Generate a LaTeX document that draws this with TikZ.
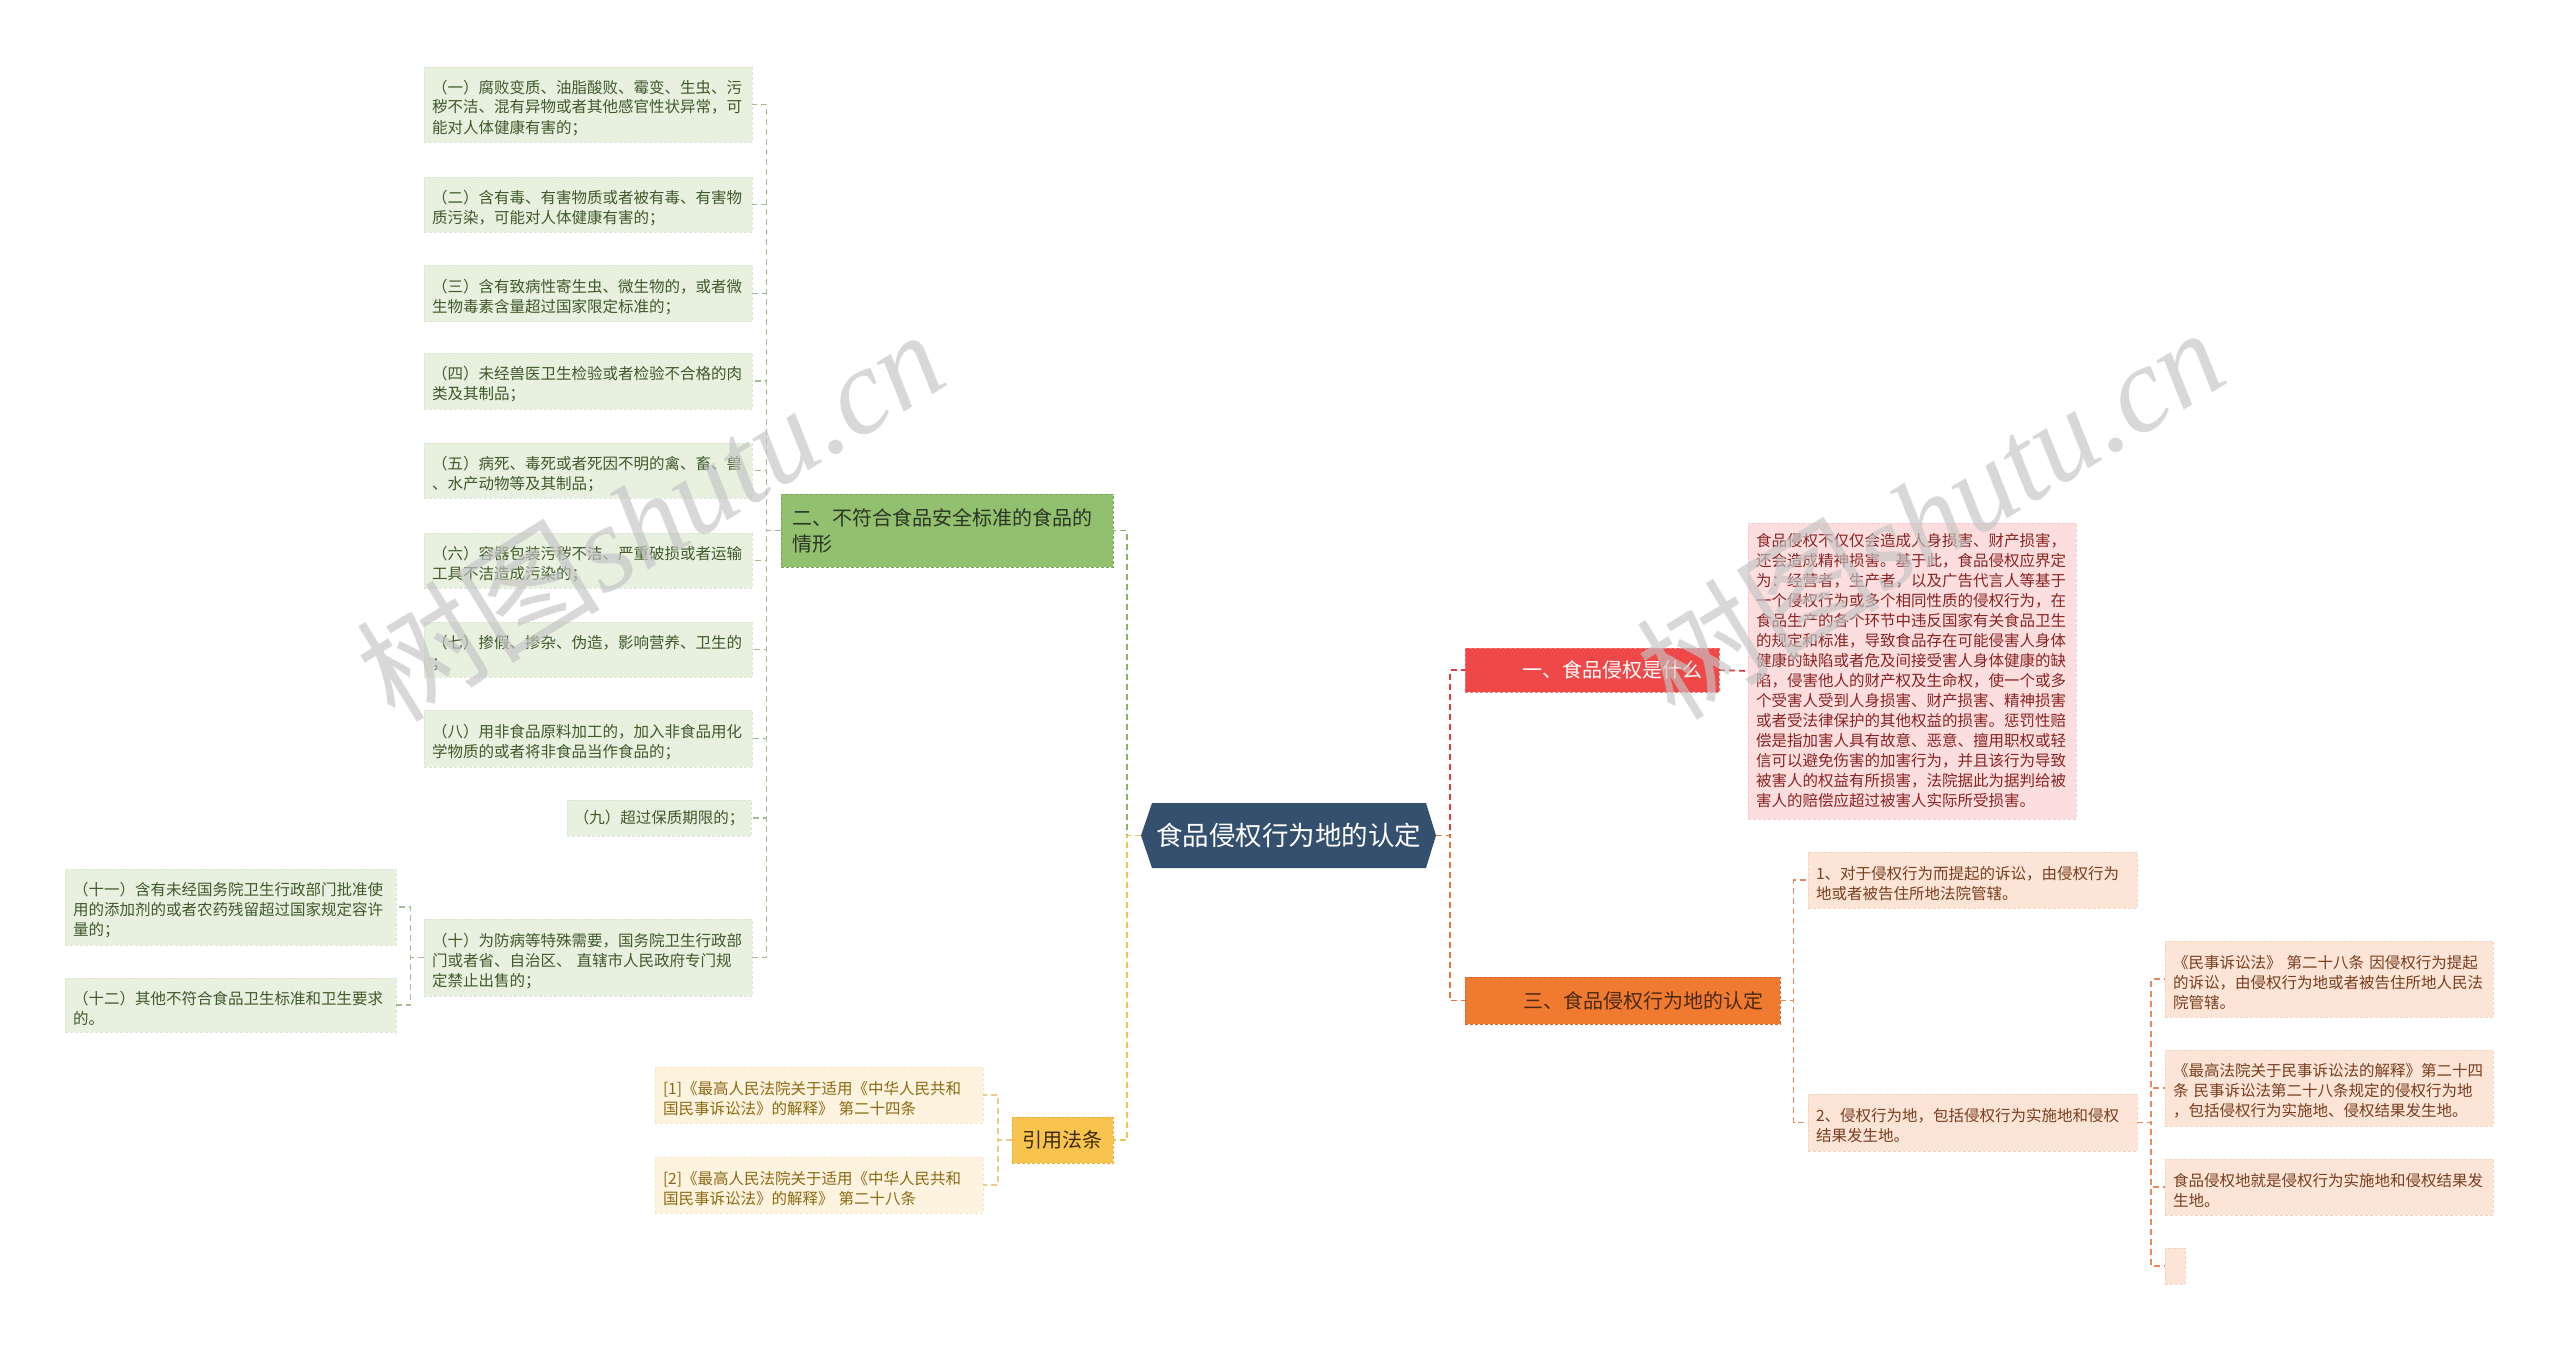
\documentclass[tikz,border=0pt]{standalone}
\usepackage{fontspec}
\setmainfont{Noto Sans CJK SC}
\newfontfamily\wmlatin{Liberation Serif}
\usetikzlibrary{calc}
\definecolor{gLeafFill}{HTML}{E8F0DF}
\definecolor{gLeafLine}{HTML}{DCE6D0}
\definecolor{gLeafText}{HTML}{3E5A2B}
\definecolor{gMainFill}{HTML}{92C06E}
\definecolor{gMainLine}{HTML}{7FA65F}
\definecolor{gMainText}{HTML}{2A3524}
\definecolor{gConn}{HTML}{A6BA94}
\definecolor{gConnMain}{HTML}{8CB064}
\definecolor{ctrFill}{HTML}{34506E}
\definecolor{rMainFill}{HTML}{F04848}
\definecolor{rMainLine}{HTML}{F57A7A}
\definecolor{rConn}{HTML}{D64040}
\definecolor{pinkFill}{HTML}{FCDEDE}
\definecolor{pinkLine}{HTML}{F4CACA}
\definecolor{pinkText}{HTML}{8B2323}
\definecolor{oMainFill}{HTML}{F07A30}
\definecolor{oMainLine}{HTML}{D8682A}
\definecolor{oMainText}{HTML}{4A2A12}
\definecolor{oConn}{HTML}{E2783C}
\definecolor{oLeafConn}{HTML}{E68C5A}
\definecolor{peachFill}{HTML}{FCE4D6}
\definecolor{peachLine}{HTML}{F4D4C0}
\definecolor{peachText}{HTML}{7A3E1E}
\definecolor{yMainFill}{HTML}{F8C44E}
\definecolor{yMainLine}{HTML}{E8B040}
\definecolor{yMainText}{HTML}{3A2A0A}
\definecolor{yConn}{HTML}{F0C45A}
\definecolor{yLeafConn}{HTML}{E8CC8C}
\definecolor{creamFill}{HTML}{FDF3DE}
\definecolor{creamLine}{HTML}{F5E6C4}
\definecolor{creamText}{HTML}{8C6914}
\definecolor{wmGray}{HTML}{C4C4C4}
\newcommand\fsleaf{\fontsize{15.5}{20}\selectfont}
\newcommand\fsmain{\fontsize{20}{26}\selectfont}
\newcommand\fsctr{\fontsize{26.5}{30}\selectfont}
\newcommand\fswm{\fontsize{122}{130}\selectfont}
\begin{document}
\begin{tikzpicture}[x=1pt,y=-1pt,
  box/.style={outer sep=0pt, inner xsep=8pt, inner ysep=0pt, align=left, font=\fsleaf, dash pattern=on 3pt off 2pt, line width=0.8pt},
  lowered/.style={execute at begin node={\rule{0pt}{19.5pt}}},
  gleaf/.style={box, lowered, fill=gLeafFill, draw=gLeafLine, text=gLeafText, text width=312pt},
  pleaf/.style={box, fill=pinkFill, draw=pinkLine, text=pinkText, text width=312pt},
  oleaf/.style={box, lowered, fill=peachFill, draw=peachLine, text=peachText, text width=312pt},
  cleaf/.style={box, lowered, fill=creamFill, draw=creamLine, text=creamText, text width=312pt},
  mainbox/.style={outer sep=0pt, inner ysep=0pt, font=\fsmain, dash pattern=on 3pt off 2pt, line width=0.8pt},
  conn/.style={dash pattern=on 6pt off 4pt, line width=1.8pt},
  wm/.style={text=wmGray, opacity=0.65, font=\fswm, inner sep=0pt}
]
\useasboundingbox[fill=white] (0,0) rectangle (2560,1351);

% ---------- centre ----------
\fill[ctrFill] (1141,835.5) -- (1152,803) -- (1426,803) -- (1436,835.5) -- (1426,868) -- (1152,868) -- cycle;
\node[outer sep=0pt, inner sep=0pt, minimum width=295pt, minimum height=65pt, text=white, font=\fsctr] (ctr) at (1288.5,835.5) {食品侵权行为地的认定};

% ---------- main branches ----------
\node[mainbox, fill=gMainFill, draw=gMainLine, text=gMainText, text width=310pt, inner xsep=11pt, minimum height=73pt, align=left] (green) at (947,530.5) {二、不符合食品安全标准的食品的\\情形};
\node[mainbox, fill=rMainFill, draw=rMainLine, text=white, text width=220pt, inner xsep=17pt, minimum height=44pt, align=right] (red) at (1592,670) {一、食品侵权是什么};
\node[mainbox, fill=oMainFill, draw=oMainLine, text=oMainText, text width=281pt, inner xsep=17pt, minimum height=47pt, align=right] (orange) at (1622.5,1000.5) {三、食品侵权行为地的认定};
\node[mainbox, fill=yMainFill, draw=yMainLine, text=yMainText, inner xsep=0pt, minimum width=101pt, minimum height=46pt] (cite) at (1062.5,1140) {引用法条};

% ---------- green leaves ----------
\node[gleaf, minimum height=75pt] (g1) at (588,104.5) {（一）腐败变质、油脂酸败、霉变、生虫、污\\秽不洁、混有异物或者其他感官性状异常，可\\能对人体健康有害的；};
\node[gleaf, minimum height=55pt] (g2) at (588,204.5) {（二）含有毒、有害物质或者被有毒、有害物\\质污染，可能对人体健康有害的；};
\node[gleaf, minimum height=56pt] (g3) at (588,293.5) {（三）含有致病性寄生虫、微生物的，或者微\\生物毒素含量超过国家限定标准的；};
\node[gleaf, minimum height=56pt] (g4) at (588,381) {（四）未经兽医卫生检验或者检验不合格的肉\\类及其制品；};
\node[gleaf, minimum height=55pt] (g5) at (588,470.5) {（五）病死、毒死或者死因不明的禽、畜、兽\\、水产动物等及其制品；};
\node[gleaf, minimum height=55pt] (g6) at (588,560.5) {（六）容器包装污秽不洁、严重破损或者运输\\工具不洁造成污染的；};
\node[gleaf, minimum height=55pt] (g7) at (588,649.5) {（七）掺假、掺杂、伪造，影响营养、卫生的\\；};
\node[gleaf, minimum height=57pt] (g8) at (588,738.5) {（八）用非食品原料加工的，加入非食品用化\\学物质的或者将非食品当作食品的；};
\node[box, fill=gLeafFill, draw=gLeafLine, text=gLeafText, inner xsep=0pt, minimum width=184pt, minimum height=36pt, align=center] (g9) at (659,818) {（九）超过保质期限的；};
\node[gleaf, minimum height=77pt] (g10) at (588,957.5) {（十）为防病等特殊需要，国务院卫生行政部\\门或者省、自治区、 直辖市人民政府专门规\\定禁止出售的；};
\node[gleaf, text width=315pt, minimum height=76pt] (g11) at (230.5,907) {（十一）含有未经国务院卫生行政部门批准使\\用的添加剂的或者农药残留超过国家规定容许\\量的；};
\node[gleaf, text width=315pt, minimum height=54pt] (g12) at (230.5,1005) {（十二）其他不符合食品卫生标准和卫生要求\\的。};

% ---------- pink description ----------
\node[pleaf, minimum height=296pt] (pink) at (1912,671) {食品侵权不仅仅会造成人身损害、财产损害，\\还会造成精神损害。基于此，食品侵权应界定\\为：经营者，生产者，以及广告代言人等基于\\一个侵权行为或多个相同性质的侵权行为，在\\食品生产的各个环节中违反国家有关食品卫生\\的规定和标准，导致食品存在可能侵害人身体\\健康的缺陷或者危及间接受害人身体健康的缺\\陷，侵害他人的财产权及生命权，使一个或多\\个受害人受到人身损害、财产损害、精神损害\\或者受法律保护的其他权益的损害。惩罚性赔\\偿是指加害人具有故意、恶意、擅用职权或轻\\信可以避免伤害的加害行为，并且该行为导致\\被害人的权益有所损害，法院据此为据判给被\\害人的赔偿应超过被害人实际所受损害。};

% ---------- orange leaves ----------
\node[oleaf, text width=313pt, minimum height=56pt] (r1) at (1972.5,880) {1、对于侵权行为而提起的诉讼，由侵权行为\\地或者被告住所地法院管辖。};
\node[oleaf, text width=313pt, minimum height=57pt] (r2) at (1972.5,1122.5) {2、侵权行为地，包括侵权行为实施地和侵权\\结果发生地。};
\node[oleaf, minimum height=76pt] (sa) at (2329,979) {《民事诉讼法》 第二十八条 因侵权行为提起\\的诉讼，由侵权行为地或者被告住所地人民法\\院管辖。};
\node[oleaf, minimum height=76pt] (sb) at (2329,1088) {《最高法院关于民事诉讼法的解释》第二十四\\条 民事诉讼法第二十八条规定的侵权行为地\\，包括侵权行为实施地、侵权结果发生地。};
\node[oleaf, minimum height=56pt] (sc) at (2329,1187) {食品侵权地就是侵权行为实施地和侵权结果发\\生地。};
\node[box, fill=peachFill, draw=peachLine, inner xsep=0pt, minimum width=20pt, minimum height=36pt] (sd) at (2175,1266) {};

% ---------- citation leaves ----------
\node[cleaf, minimum height=56pt] (c1) at (819,1095) {[1]《最高人民法院关于适用《中华人民共和\\国民事诉讼法》的解释》 第二十四条};
\node[cleaf, minimum height=56pt] (c2) at (819,1185) {[2]《最高人民法院关于适用《中华人民共和\\国民事诉讼法》的解释》 第二十八条};

% ---------- connectors ----------
\foreach \n in {g1,g2,g3,g4,g5,g6,g7,g8,g9,g10}
  \draw[conn, gConn] (green.west) -- ++(-14.5,0) |- (\n.east);
\foreach \n in {g11,g12}
  \draw[conn, gConn] (g10.west) -- ++(-13.5,0) |- (\n.east);
\draw[conn, gConnMain] (ctr.west) -- ++(-14,0) |- (green.east);
\draw[conn, yConn] (ctr.west) -- ++(-14,0) |- (cite.east);
\foreach \n in {c1,c2}
  \draw[conn, yLeafConn] (cite.west) -- ++(-14,0) |- (\n.east);
\draw[conn, rConn] (ctr.east) -- ++(14,0) |- (red.west);
\draw[conn, oConn] (ctr.east) -- ++(14,0) |- (orange.west);
\draw[conn, rConn] (red.east) -- (pink.west);
\foreach \n in {r1,r2}
  \draw[conn, oLeafConn] (orange.east) -- ++(13.5,0) |- (\n.west);
\foreach \n in {sa,sb,sc,sd}
  \draw[conn, oLeafConn] (r2.east) -- ++(14,0) |- (\n.west);

% ---------- watermarks ----------
\node[wm, rotate=31.6] (wm1) at (650,514) {树图{\wmlatin\itshape shutu.cn}};
\node[wm, rotate=31.6] (wm2) at (1930,512) {树图{\wmlatin\itshape shutu.cn}};
\end{tikzpicture}
\end{document}
